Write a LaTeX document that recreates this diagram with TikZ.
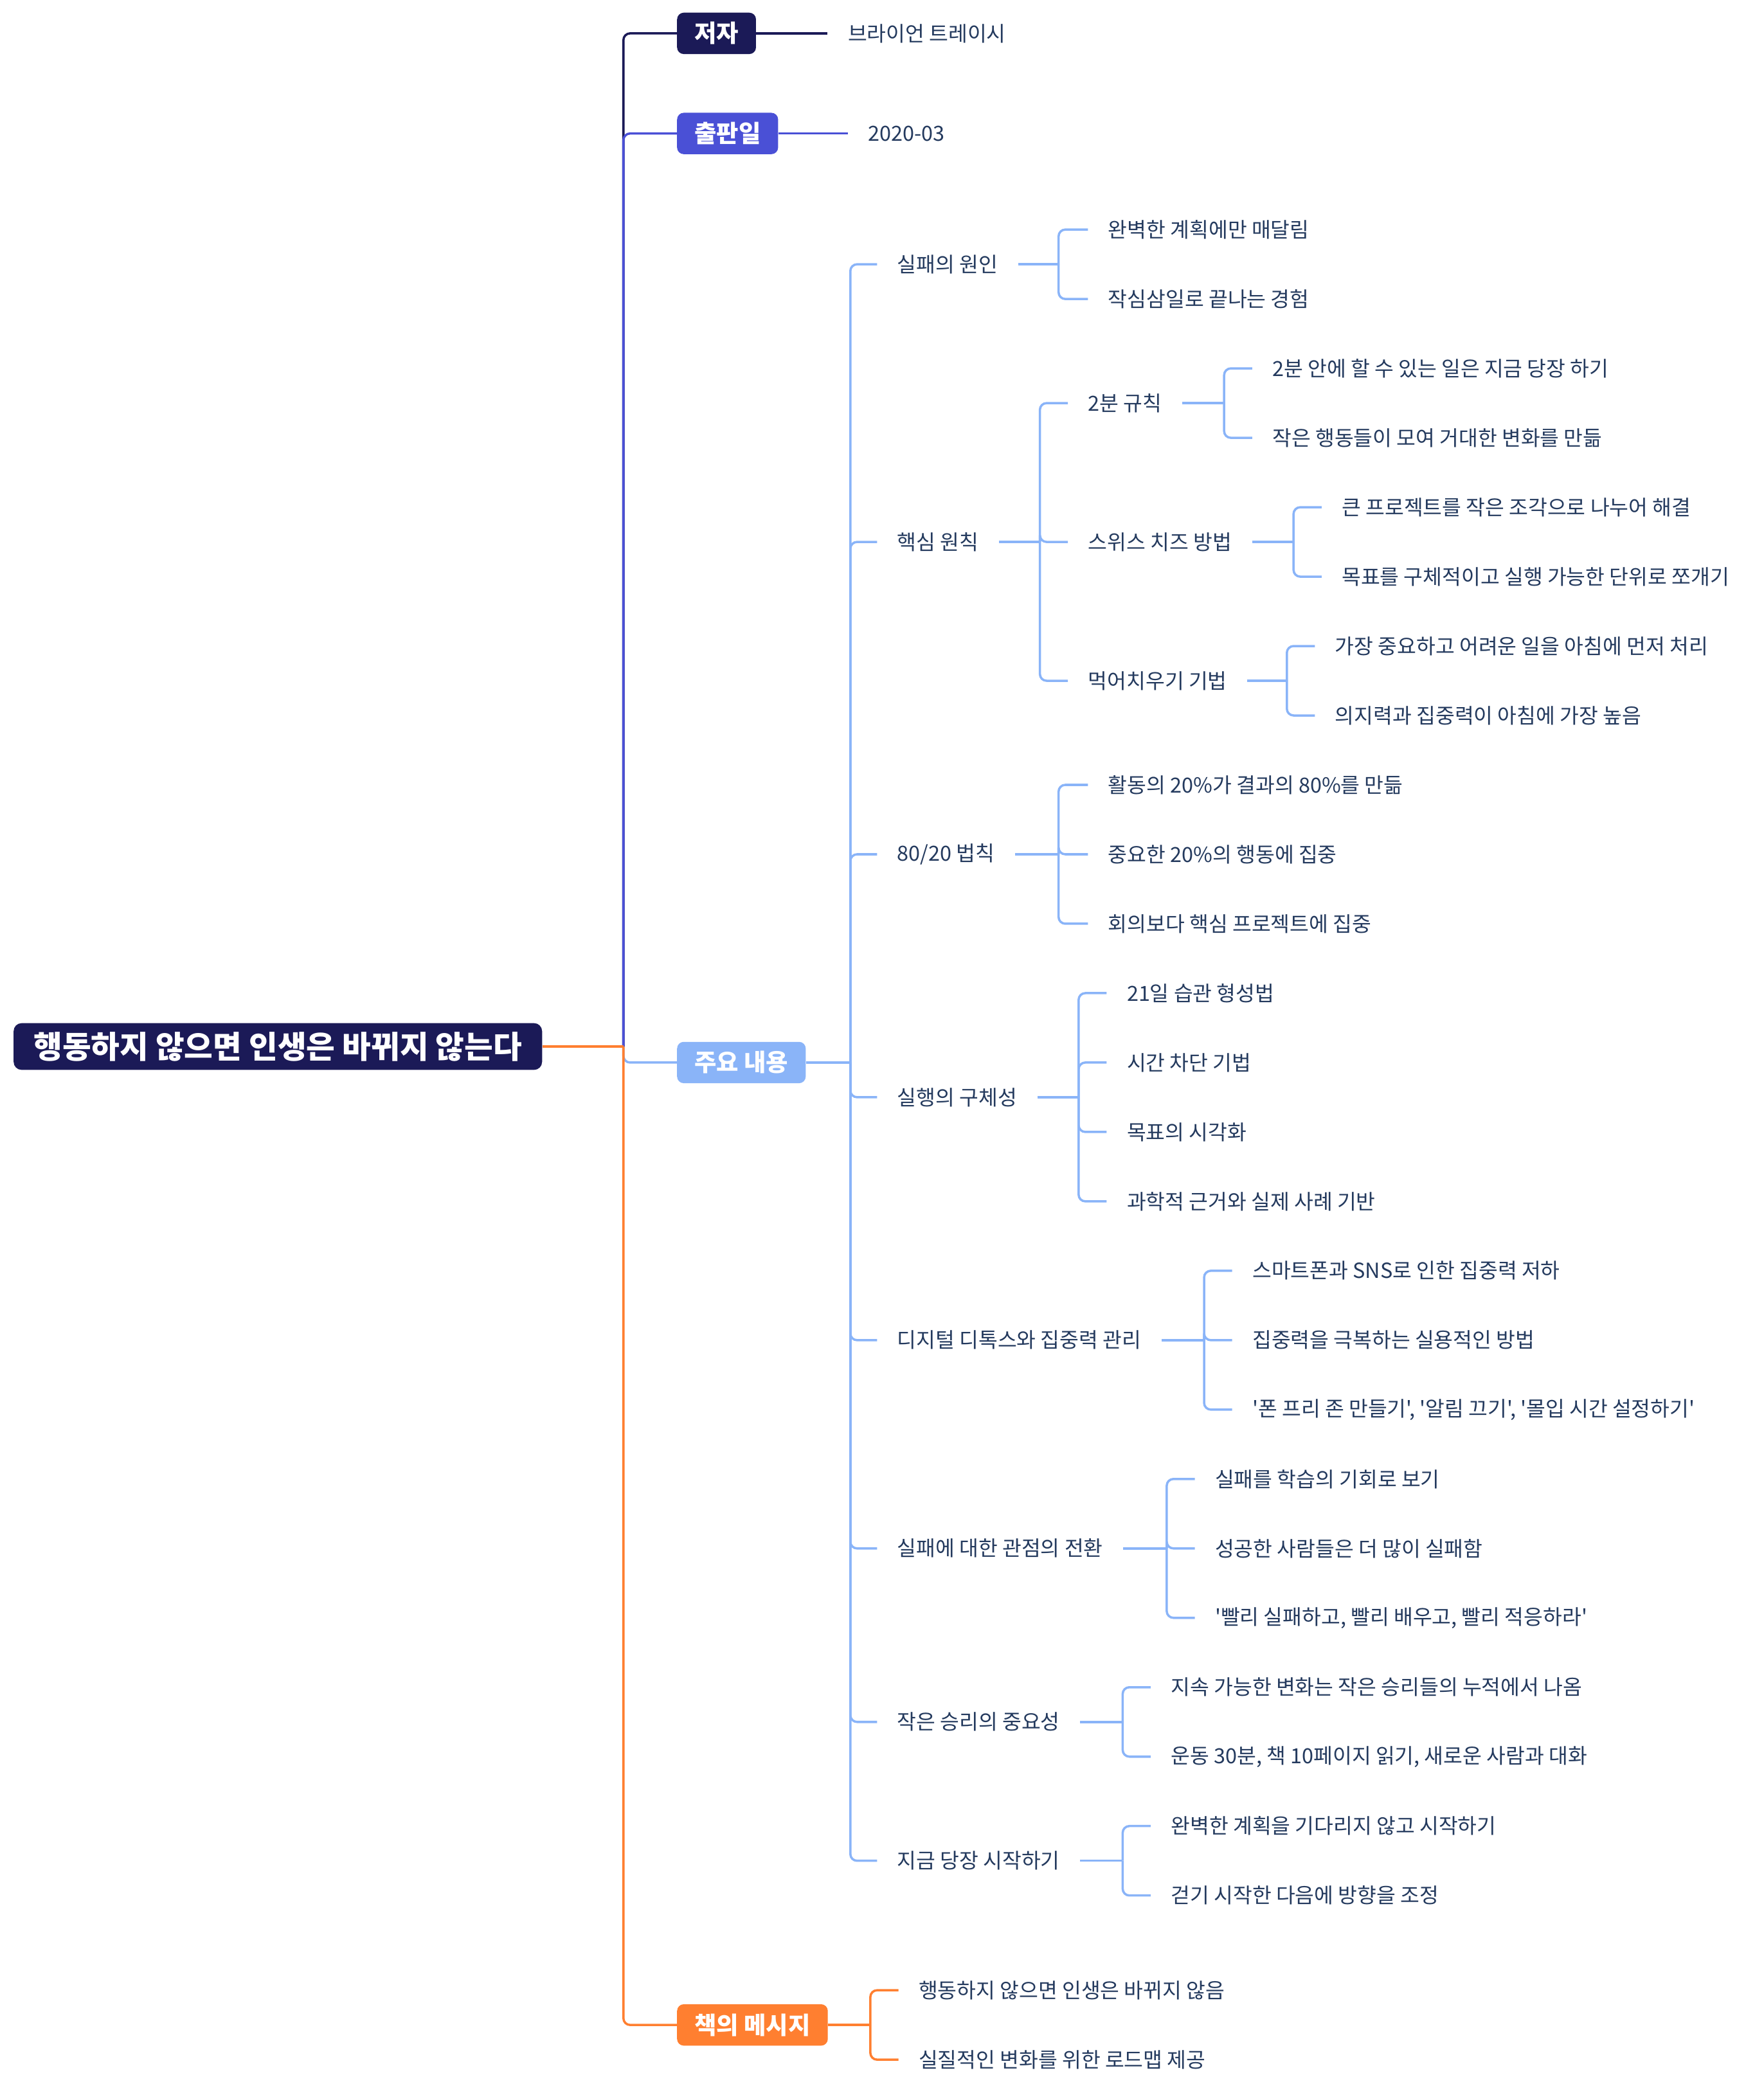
\documentclass[tikz,border=0pt]{standalone}
\usepackage{fontspec}
\setmainfont{Noto Sans CJK KR}[Ligatures=TeXOff]
\usepackage{tikz}
\usetikzlibrary{positioning}
\definecolor{mmnavy}{HTML}{1B1A57}
\definecolor{mmblue}{HTML}{4A50D6}
\definecolor{mmsky}{HTML}{8AB4F8}
\definecolor{mmorange}{HTML}{FF7F30}
\definecolor{mmink}{HTML}{243A5E}

\begin{document}
\begin{tikzpicture}[
  x=1pt,y=-1pt,
  every node/.style={anchor=west,inner xsep=15pt,inner ysep=3pt,text=mmink,font=\fontsize{15.6}{18}\selectfont},
  root/.style={fill=mmnavy,text=white,rounded corners=6pt,minimum height=35pt,font=\fontsize{23.4}{27}\selectfont\bfseries},
  topic/.style={text=white,rounded corners=5pt,minimum height=31pt,inner xsep=13pt,font=\fontsize{18}{20}\selectfont\bfseries},
  link/.style={line width=1.7pt,rounded corners=5pt},
  sky/.style={link,color=mmsky}
]
\useasboundingbox (0,0) rectangle (1321,1568);
\node[root] (root) at (10,784) {행동하지 않으면 인생은 바뀌지 않는다};

\node[topic,fill=mmnavy] (author) at (507,25) {저자};
\node[topic,fill=mmblue] (pubdate) at (507,100) {출판일};
\node[topic,fill=mmsky] (main) at (507,796) {주요 내용};
\node[topic,fill=mmorange] (msg) at (507,1517) {책의 메시지};

\node (authorval) at (620,25) {브라이언 트레이시};
\node (pubval) at (635,100) {2020-03};

\node (cause) at (657,198) {실패의 원인};
\node (cause1) at (815,172) {완벽한 계획에만 매달림};
\node (cause2) at (815,224) {작심삼일로 끝나는 경험};

\node (core) at (657,406) {핵심 원칙};
\node (rule) at (800,302) {2분 규칙};
\node (rule1) at (938,276) {2분 안에 할 수 있는 일은 지금 당장 하기};
\node (rule2) at (938,328) {작은 행동들이 모여 거대한 변화를 만듦};
\node (swiss) at (800,406) {스위스 치즈 방법};
\node (swiss1) at (990,380) {큰 프로젝트를 작은 조각으로 나누어 해결};
\node (swiss2) at (990,432) {목표를 구체적이고 실행 가능한 단위로 쪼개기};
\node (frog) at (800,510) {먹어치우기 기법};
\node (frog1) at (985,484) {가장 중요하고 어려운 일을 아침에 먼저 처리};
\node (frog2) at (985,536) {의지력과 집중력이 아침에 가장 높음};

\node (pareto) at (657,640) {80/20 법칙};
\node (pareto1) at (815,588) {활동의 20\%가 결과의 80\%를 만듦};
\node (pareto2) at (815,640) {중요한 20\%의 행동에 집중};
\node (pareto3) at (815,692) {회의보다 핵심 프로젝트에 집중};

\node (act) at (657,822) {실행의 구체성};
\node (act1) at (829,744) {21일 습관 형성법};
\node (act2) at (829,796) {시간 차단 기법};
\node (act3) at (829,848) {목표의 시각화};
\node (act4) at (829,900) {과학적 근거와 실제 사례 기반};

\node (detox) at (657,1004) {디지털 디톡스와 집중력 관리};
\node (detox1) at (923,952) {스마트폰과 SNS로 인한 집중력 저하};
\node (detox2) at (923,1004) {집중력을 극복하는 실용적인 방법};
\node (detox3) at (923,1056) {'폰 프리 존 만들기', '알림 끄기', '몰입 시간 설정하기'};

\node (fail) at (657,1160) {실패에 대한 관점의 전환};
\node (fail1) at (895,1108) {실패를 학습의 기회로 보기};
\node (fail2) at (895,1160) {성공한 사람들은 더 많이 실패함};
\node (fail3) at (895,1212) {'빨리 실패하고, 빨리 배우고, 빨리 적응하라'};

\node (win) at (657,1290) {작은 승리의 중요성};
\node (win1) at (862,1264) {지속 가능한 변화는 작은 승리들의 누적에서 나옴};
\node (win2) at (862,1316) {운동 30분, 책 10페이지 읽기, 새로운 사람과 대화};

\node (now) at (657,1394) {지금 당장 시작하기};
\node (now1) at (862,1368) {완벽한 계획을 기다리지 않고 시작하기};
\node (now2) at (862,1420) {걷기 시작한 다음에 방향을 조정};

\node (msg1) at (673,1491) {행동하지 않으면 인생은 바뀌지 않음};
\node (msg2) at (673,1543) {실질적인 변화를 위한 로드맵 제공};

\coordinate (hub) at (467,784);
\coordinate (mainhub) at (637,796);
\coordinate (msghub) at (652,1517);
\coordinate (causehub) at (793,198);
\coordinate (corehub) at (779,406);
\coordinate (rulehub) at (917,302);
\coordinate (swisshub) at (969,406);
\coordinate (froghub) at (964,510);
\coordinate (paretohub) at (793,640);
\coordinate (acthub) at (808,822);
\coordinate (detoxhub) at (902,1004);
\coordinate (failhub) at (874,1160);
\coordinate (winhub) at (841,1290);
\coordinate (nowhub) at (841,1394);

\draw[link,mmnavy] (hub) |- (author.west);
\draw[link,mmblue] (hub) |- (pubdate.west);
\draw[sky] (hub) |- (main.west);
\draw[link,mmorange] (hub) |- (msg.west);
\draw[link,mmorange,line width=2pt] (root.east) -- (hub);

\draw[link,mmnavy] (author.east) -- (authorval.west);
\draw[link,mmblue] (pubdate.east) -- (pubval.west);
\draw[link,mmorange] (msg.east) -- (msghub);
\foreach \c in {msg1,msg2} \draw[link,mmorange] (msghub) |- (\c.west);

\draw[sky] (main.east) -- (mainhub);
\foreach \c in {cause,core,pareto,act,detox,fail,win,now} \draw[sky] (mainhub) |- (\c.west);

\draw[sky] (cause.east) -- (causehub);
\foreach \c in {cause1,cause2} \draw[sky] (causehub) |- (\c.west);
\draw[sky] (core.east) -- (corehub);
\foreach \c in {rule,swiss,frog} \draw[sky] (corehub) |- (\c.west);
\draw[sky] (rule.east) -- (rulehub);
\foreach \c in {rule1,rule2} \draw[sky] (rulehub) |- (\c.west);
\draw[sky] (swiss.east) -- (swisshub);
\foreach \c in {swiss1,swiss2} \draw[sky] (swisshub) |- (\c.west);
\draw[sky] (frog.east) -- (froghub);
\foreach \c in {frog1,frog2} \draw[sky] (froghub) |- (\c.west);
\draw[sky] (pareto.east) -- (paretohub);
\foreach \c in {pareto1,pareto2,pareto3} \draw[sky] (paretohub) |- (\c.west);
\draw[sky] (act.east) -- (acthub);
\foreach \c in {act1,act2,act3,act4} \draw[sky] (acthub) |- (\c.west);
\draw[sky] (detox.east) -- (detoxhub);
\foreach \c in {detox1,detox2,detox3} \draw[sky] (detoxhub) |- (\c.west);
\draw[sky] (fail.east) -- (failhub);
\foreach \c in {fail1,fail2,fail3} \draw[sky] (failhub) |- (\c.west);
\draw[sky] (win.east) -- (winhub);
\foreach \c in {win1,win2} \draw[sky] (winhub) |- (\c.west);
\draw[sky] (now.east) -- (nowhub);
\foreach \c in {now1,now2} \draw[sky] (nowhub) |- (\c.west);
\end{tikzpicture}
\end{document}
